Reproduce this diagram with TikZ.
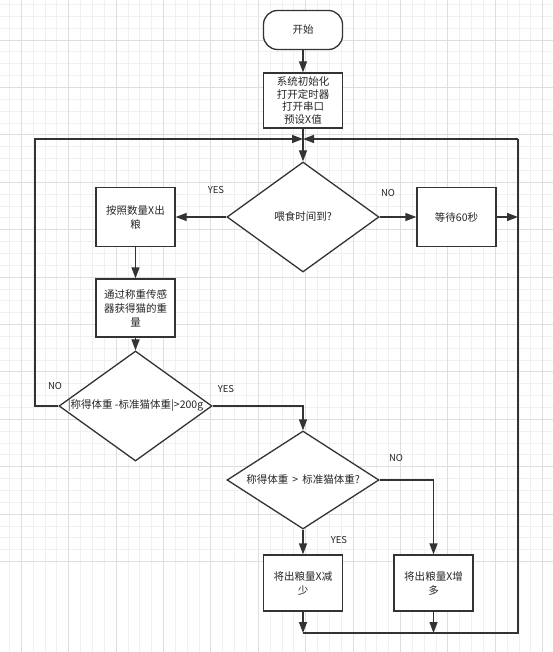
\documentclass[tikz,border=0pt]{standalone}
\usepackage{fontspec}
\setmainfont{Noto Sans CJK SC}
\usetikzlibrary{arrows.meta,shapes.geometric}

\begin{document}
\begin{tikzpicture}[x=1pt,y=-1pt,
  line/.style={draw=black!80,line width=1.3pt},
  arr/.style={line,-{Triangle[length=11pt,width=8pt]}},
  box/.style={line,fill=white,minimum width=79pt,minimum height=57pt,inner sep=1pt,
    align=center,text=black!85,font=\fontsize{10.5}{14}\selectfont},
  termbox/.style={box,minimum height=39pt,rounded corners=14pt},
  decision/.style={line,fill=white,shape=diamond,minimum width=152pt,minimum height=110pt,
    inner sep=0pt,text=black!85,font=\fontsize{10.5}{14}\selectfont},
  lbl/.style={text=black!85,font=\fontsize{9.5}{11}\selectfont}]
  % 背景网格
  \useasboundingbox (0,0) rectangle (553,652);
  \fill[white] (0,0) rectangle (553,652);
  \foreach \i in {0,...,46} {
    \draw[black!6,line width=0.8pt] ({9.4+11.85*\i},0) -- ++(0,652);
    \draw[black!6,line width=0.8pt] (0,{4.5+11.85*\i}) -- ++(553,0);
  }
  \foreach \i in {0,...,11} {
    \draw[black!13,line width=0.8pt] ({21.25+47.4*\i},0) -- ++(0,652);
    \draw[black!13,line width=0.8pt] (0,{40.05+47.4*\i}) -- ++(553,0);
  }

  % 流程节点
  \node[termbox] (start) at (303,30) {开始};
  \node[box,minimum height=55pt,inner sep=0pt,font=\fontsize{10.5}{12.8}\selectfont]
    (init) at (303,100.5) {系统初始化\\打开定时器\\打开串口\\预设X值};
  \node[decision] (q1) at (303,217) {\makebox[0pt]{喂食时间到?}};
  \node[box,minimum height=59pt] (feed) at (135.5,217) {按照数量X出\\粮};
  \node[box,minimum height=59pt] (wait) at (456.5,217) {等待60秒};
  \node[box,minimum height=58pt] (weigh) at (135.5,308)
    {通过称重传感\\器获得猫的重\\量};
  \node[decision,minimum width=153pt] (q2) at (135.5,406)
    {\makebox[0pt]{|称得体重 -标准猫体重|>200g}};
  \node[decision,minimum height=98pt] (q3) at (303,480)
    {\makebox[0pt]{称得体重 \,>\, 标准猫体重?}};
  \node[box,minimum height=56pt] (reduce) at (303,583) {将出粮量X减\\少};
  \node[box,minimum height=56pt] (increase) at (433.5,583) {将出粮量X增\\多};

  % 回路用的拐点
  \coordinate (merge) at (303,139);
  \coordinate (lcorner) at (35,139);
  \coordinate (rtop) at (518,139);
  \coordinate (rbot) at (518,633);
  \coordinate (bl) at (303,633);
  \coordinate (bm) at (433.5,633);

  % 连线
  \draw[arr] (start) -- (init);
  \draw[arr] (init) -- (q1);
  \draw[arr] (q1) -- (feed);
  \draw[arr] (q1) -- (wait);
  \draw[arr] (wait) -- (wait.east -| rtop);
  \draw[arr] (feed) -- (weigh);
  \draw[arr] (weigh) -- (q2);
  \draw[arr] (q2.west) -| (lcorner) -- (merge);
  \draw[arr] (q2.east) -| (q3.north);
  \draw[arr] (q3) -- (reduce);
  \draw[arr] (q3.east) -| (increase.north);
  \draw[line] (bl) -- (rbot) -- (rtop);
  \draw[arr] (rtop) -- (merge);
  \draw[arr] (reduce) -- (bl);
  \draw[arr] (increase) -- (bm);

  % 分支标注
  \node[lbl] (yes1) at (216,190) {YES};
  \node[lbl] (no1) at (388,193) {NO};
  \node[lbl] (no2) at (55,386) {NO};
  \node[lbl] (yes2) at (226,389) {YES};
  \node[lbl] (no3) at (396,458) {NO};
  \node[lbl] (yes3) at (339,540) {YES};
\end{tikzpicture}
\end{document}
